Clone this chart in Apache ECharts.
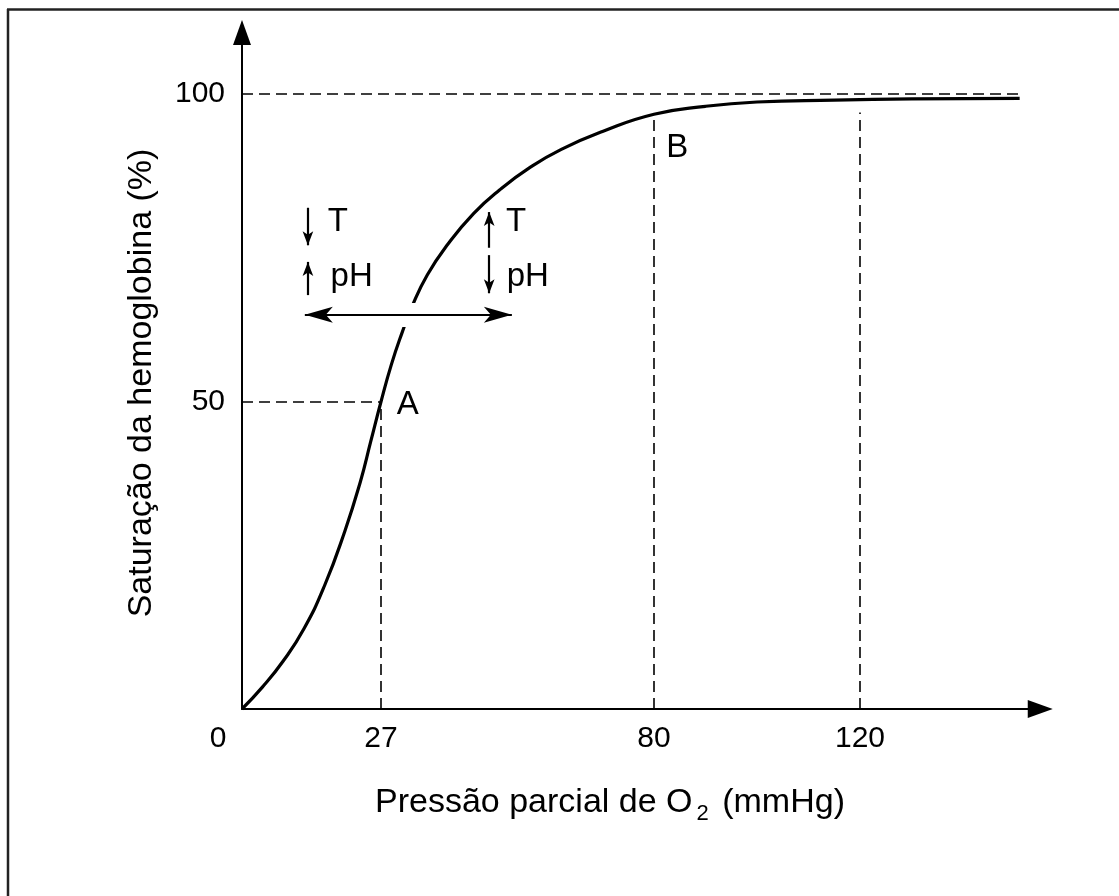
<!DOCTYPE html>
<html>
<head>
<meta charset="utf-8">
<script src="https://cdn.jsdelivr.net/npm/echarts@6/dist/echarts.min.js"></script>
<style>
  html, body { margin: 0; padding: 0; background: #fff; }
  #chart { width: 1119px; height: 896px; }
</style>
</head>
<body>
<div id="chart"></div>
<script>
// Oxygen–haemoglobin dissociation curve
const pressure   = [0, 4, 8, 12, 16, 20, 23, 25, 27, 29, 31, 33, 36, 40, 45, 50, 56, 62, 70, 80, 90, 100, 115, 130, 151];
const saturation = [0, 3.6, 7.8, 13, 20, 29, 37, 43.5, 50, 56, 61, 65.4, 70.6, 75.6, 80.6, 84.4, 88.1, 91, 93.9, 96.7, 98, 98.7, 99.0, 99.2, 99.3];

// tick labels
const xTicks = [0, 27, 80, 120];
const yTicks = [50, 100];

// reference points on the curve
const pointA = [27, 50];
const pointB = [80, 96.7];
const plateauEnd = 151;
const guide120Top = 97;

// curve shift annotation (left: ↓T ↑pH, right: ↑T ↓pH)
const shiftSpan = [12.2, 52.4];
const shiftLevel = 64.1;
const leftArrowX = 12.8;
const rightArrowX = 48.0;
const leftDown = [81.5, 75.4];
const leftUp = [67.3, 72.7];
const rightUp = [75.0, 80.8];
const rightDown = [73.8, 67.6];
const annotations = [
  { name: 'T',  coord: [18.6, 79.2] },
  { name: 'pH', coord: [21.3, 70.3] },
  { name: 'T',  coord: [53.2, 79.2] },
  { name: 'pH', coord: [55.5, 70.3] },
  { name: 'A',  coord: [32.2, 49.4] },
  { name: 'B',  coord: [84.5, 91.3] }
];

const FONT = "'Liberation Sans', Arial, sans-serif";
const INK = '#000';

const chart = echarts.init(document.getElementById('chart'), null, { renderer: 'canvas' });

const dashed = { color: INK, width: 1.6, type: [11, 6] };

const option = {
  animation: false,
  backgroundColor: '#fff',
  grid: { left: 242, top: 32.5, width: 798.25, height: 676.5, containLabel: false },
  xAxis: {
    type: 'value', min: 0, max: 155,
    splitLine: { show: false },
    axisTick: { show: false },
    axisLine: { lineStyle: { color: INK, width: 2 }, symbol: ['none', 'triangle'], symbolSize: [18, 25] },
    axisLabel: {
      customValues: xTicks,
      color: INK, fontSize: 30, fontFamily: FONT, margin: 15,
      formatter: v => v === 0 ? '{z|0}' : String(v),
      rich: { z: { fontSize: 30, fontFamily: FONT, color: INK, padding: [0, 48, 8, 0] } }
    }
  },
  yAxis: {
    type: 'value', min: 0, max: 110,
    splitLine: { show: false },
    axisTick: { show: false },
    axisLine: { lineStyle: { color: INK, width: 2 }, symbol: ['none', 'triangle'], symbolSize: [18, 25] },
    axisLabel: { customValues: yTicks, color: INK, fontSize: 30, fontFamily: FONT, margin: 17 }
  },
  graphic: [
    // frame
    { type: 'line', shape: { x1: 7, y1: 9.5, x2: 1119, y2: 9.5 }, style: { stroke: '#222', lineWidth: 2.5 }, silent: true },
    { type: 'line', shape: { x1: 8, y1: 9, x2: 8, y2: 896 }, style: { stroke: '#222', lineWidth: 2.5 }, silent: true },
    // axis titles
    {
      type: 'text', x: 610, y: 803, silent: true,
      style: {
        text: 'Pressão parcial de O{sub|2} (mmHg)',
        font: '34px ' + FONT, fill: INK, align: 'center', verticalAlign: 'middle',
        rich: { sub: { fontSize: 22, fontFamily: FONT, fill: INK, padding: [22, 4, 0, 4] } }
      }
    },
    {
      type: 'text', x: 142, y: 383, rotation: Math.PI / 2, silent: true,
      style: { text: 'Saturação da hemoglobina (%)', font: '34px ' + FONT, fill: INK, align: 'center', verticalAlign: 'middle' }
    }
  ],
  series: [
    {
      name: 'curve', type: 'line', z: 2,
      data: pressure.map((p, i) => [p, saturation[i]]),
      smooth: 0.5, showSymbol: false, symbol: 'none',
      lineStyle: { color: INK, width: 3.2 },
      markLine: {
        silent: true, symbol: ['none', 'none'], label: { show: false },
        lineStyle: dashed,
        data: [
          [{ coord: [0, 100] }, { coord: [plateauEnd, 100] }],
          [{ coord: [0, pointA[1]] }, { coord: pointA }],
          [{ coord: [pointA[0], 0] }, { coord: pointA }],
          [{ coord: [pointB[0], 0] }, { coord: pointB }],
          [{ coord: [120, 0] }, { coord: [120, guide120Top] }]
        ]
      }
    },
    {
      // break in the curve where the shift arrow crosses it
      name: 'gap', type: 'line', z: 3, data: [], symbol: 'none',
      markLine: {
        silent: true, symbol: ['none', 'none'], label: { show: false },
        lineStyle: { color: '#fff', width: 24, type: 'solid', cap: 'butt' },
        data: [[{ coord: [29.8, shiftLevel] }, { coord: [35.5, shiftLevel] }]]
      }
    },
    {
      name: 'shift', type: 'line', z: 4, data: [], symbol: 'none',
      markLine: {
        silent: true, label: { show: false },
        data: [
          [{ coord: [shiftSpan[0], shiftLevel], symbol: 'arrow', symbolSize: [12, 28] },
           { coord: [shiftSpan[1], shiftLevel], symbol: 'arrow', symbolSize: [12, 28] }],
          [{ coord: [leftArrowX, leftDown[0]], symbol: 'none' }, { coord: [leftArrowX, leftDown[1]], symbol: 'arrow', symbolSize: [8, 14] }],
          [{ coord: [leftArrowX, leftUp[0]], symbol: 'none' }, { coord: [leftArrowX, leftUp[1]], symbol: 'arrow', symbolSize: [8, 14] }],
          [{ coord: [rightArrowX, rightUp[0]], symbol: 'none' }, { coord: [rightArrowX, rightUp[1]], symbol: 'arrow', symbolSize: [8, 14] }],
          [{ coord: [rightArrowX, rightDown[0]], symbol: 'none' }, { coord: [rightArrowX, rightDown[1]], symbol: 'arrow', symbolSize: [8, 14] }]
        ],
        lineStyle: { color: INK, width: 2.2, type: 'solid' }
      },
      markPoint: {
        silent: true, symbol: 'circle', symbolSize: 0,
        label: { show: true, position: 'inside', formatter: p => p.name, color: INK, fontSize: 33, fontFamily: FONT },
        data: annotations.map(a => ({ name: a.name, coord: a.coord }))
      }
    }
  ]
};

chart.setOption(option);
</script>
</body>
</html>
